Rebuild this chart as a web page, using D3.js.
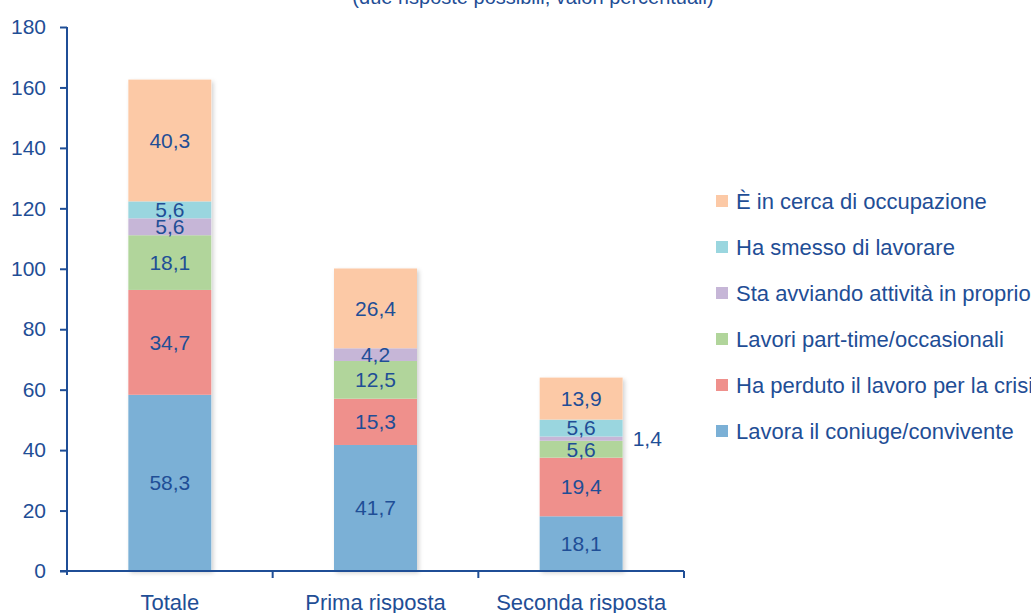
<!DOCTYPE html>
<html>
<head>
<meta charset="utf-8">
<script src="https://cdn.jsdelivr.net/npm/d3@7"></script>
<style>
  body { margin: 0; background: #fff; }
  text { font-family: "Liberation Sans", Arial, sans-serif; fill: #1f4e96; }
</style>
</head>
<body>
<svg id="chart" width="1031" height="613"></svg>
<script>
// categories on the x axis
var categories = ["Totale", "Prima risposta", "Seconda risposta"]

// series, stacked bottom to top
var series = [
  "Lavora il coniuge/convivente",
  "Ha perduto il lavoro per la crisi",
  "Lavori part-time/occasionali",
  "Sta avviando attività in proprio",
  "Ha smesso di lavorare",
  "È in cerca di occupazione"
]
var lavoraConiuge   = [58.3, 41.7, 18.1]
var perdutoLavoro   = [34.7, 15.3, 19.4]
var lavoriPartTime  = [18.1, 12.5, 5.6]
var avviandoAttivita = [5.6, 4.2, 1.4]
var smessoLavorare  = [5.6, 0, 5.6]
var inCerca         = [40.3, 26.4, 13.9]

var yTicks = [0, 20, 40, 60, 80, 100, 120, 140, 160, 180]

var colors = ["#7bb0d6", "#ef908c", "#b1d59b", "#c6b6d7", "#9ad6df", "#fcc9a6"]

var svg = d3.select("#chart")

// build rows for d3.stack
var values = [lavoraConiuge, perdutoLavoro, lavoriPartTime, avviandoAttivita, smessoLavorare, inCerca]
var rows = categories.map(function(c, i) {
  var r = {cat: c}
  series.forEach(function(s, j) { r[s] = values[j][i] })
  return r
})
var stacked = d3.stack().keys(series)(rows)

var x = d3.scaleBand()
  .domain(categories)
  .range([67, 684])
var y = d3.scaleLinear()
  .domain([0, 180])
  .range([571, 27])

var barW = 83

// soft shadow like the original
var defs = svg.append("defs")
var f = defs.append("filter").attr("id", "shadow")
  .attr("x", "-10%").attr("y", "-10%").attr("width", "130%").attr("height", "130%")
f.append("feDropShadow")
  .attr("dx", 2).attr("dy", 2).attr("stdDeviation", 2)
  .attr("flood-color", "#000").attr("flood-opacity", 0.18)

// title (cut at the top in the original)
svg.append("text")
  .attr("x", 533)
  .attr("y", 4)
  .attr("text-anchor", "middle")
  .style("font-size", "20px")
  .text("(due risposte possibili; valori percentuali)")

// bars
var layers = svg.append("g")
  .selectAll("g")
  .data(stacked)
  .enter()
  .append("g")
    .attr("fill", function(d, i) { return colors[i] })

// shadow behind each whole bar
svg.insert("g", "g")
  .selectAll("rect")
  .data(rows)
  .enter()
  .append("rect")
    .attr("x", function(d) { return x(d.cat) + x.bandwidth() / 2 - barW / 2 })
    .attr("width", barW)
    .attr("y", function(d) { return y(d3.sum(series, function(s) { return d[s] })) })
    .attr("height", function(d) { return y(0) - y(d3.sum(series, function(s) { return d[s] })) })
    .attr("fill", "#fff")
    .attr("filter", "url(#shadow)")

layers.selectAll("rect")
  .data(function(d) { return d })
  .enter()
  .append("rect")
    .attr("x", function(d) { return x(d.data.cat) + x.bandwidth() / 2 - barW / 2 })
    .attr("width", barW)
    .attr("y", function(d) { return y(d[1]) })
    .attr("height", function(d) { return y(d[0]) - y(d[1]) })

// value labels
var labels = svg.append("g")
stacked.forEach(function(layer) {
  layer.forEach(function(d) {
    var v = d[1] - d[0]
    if (v <= 0) return
    var cx = x(d.data.cat) + x.bandwidth() / 2
    var cy = y((d[0] + d[1]) / 2)
    var outside = v < 2
    labels.append("text")
      .attr("x", outside ? cx + barW / 2 + 10 : cx)
      .attr("y", cy)
      .attr("dy", "0.35em")
      .attr("text-anchor", outside ? "start" : "middle")
      .style("font-family", "'Liberation Sans Narrow', 'Arial Narrow', sans-serif")
      .style("font-size", "21px")
      .text(d3.format(".1f")(v).replace(".", ","))
  })
})

// y axis
var yAxis = svg.append("g")
  .attr("transform", "translate(67,0)")
  .call(d3.axisLeft(y).tickValues(yTicks).tickSize(7).tickPadding(14))
yAxis.selectAll("text").style("font-size", "21px").attr("fill", "#1f4e96")
yAxis.selectAll("line").attr("stroke", "#1f4e96").attr("stroke-width", 2)
yAxis.select(".domain").attr("stroke", "#1f4e96").attr("stroke-width", 2)
  .attr("d", "M0,27V575")

// x axis with ticks at the band edges
var xAxis = svg.append("g")
  .attr("transform", "translate(0,571)")
xAxis.append("line")
  .attr("x1", 60).attr("x2", 684)
  .attr("stroke", "#1f4e96").attr("stroke-width", 2)
xAxis.selectAll("line.tk")
  .data(categories)
  .enter()
  .append("line")
    .attr("class", "tk")
    .attr("x1", function(d) { return x(d) + x.bandwidth() })
    .attr("x2", function(d) { return x(d) + x.bandwidth() })
    .attr("y1", 0).attr("y2", 7)
    .attr("stroke", "#1f4e96").attr("stroke-width", 2)
xAxis.selectAll("text")
  .data(categories)
  .enter()
  .append("text")
    .attr("x", function(d) { return x(d) + x.bandwidth() / 2 })
    .attr("y", 39)
    .attr("text-anchor", "middle")
    .style("font-size", "22px")
    .text(function(d) { return d })

// legend, top entry is the top of the stack
var legend = svg.append("g")
  .selectAll("g")
  .data(series.slice().reverse())
  .enter()
  .append("g")
    .attr("transform", function(d, i) { return "translate(716," + (201 + i * 46) + ")" })
legend.append("rect")
  .attr("x", 0).attr("y", -6)
  .attr("width", 12).attr("height", 12)
  .attr("fill", function(d) { return colors[series.indexOf(d)] })
legend.append("text")
  .attr("x", 20)
  .attr("dy", "0.35em")
  .style("font-size", "22px")
  .text(function(d) { return d })
</script>
</body>
</html>
